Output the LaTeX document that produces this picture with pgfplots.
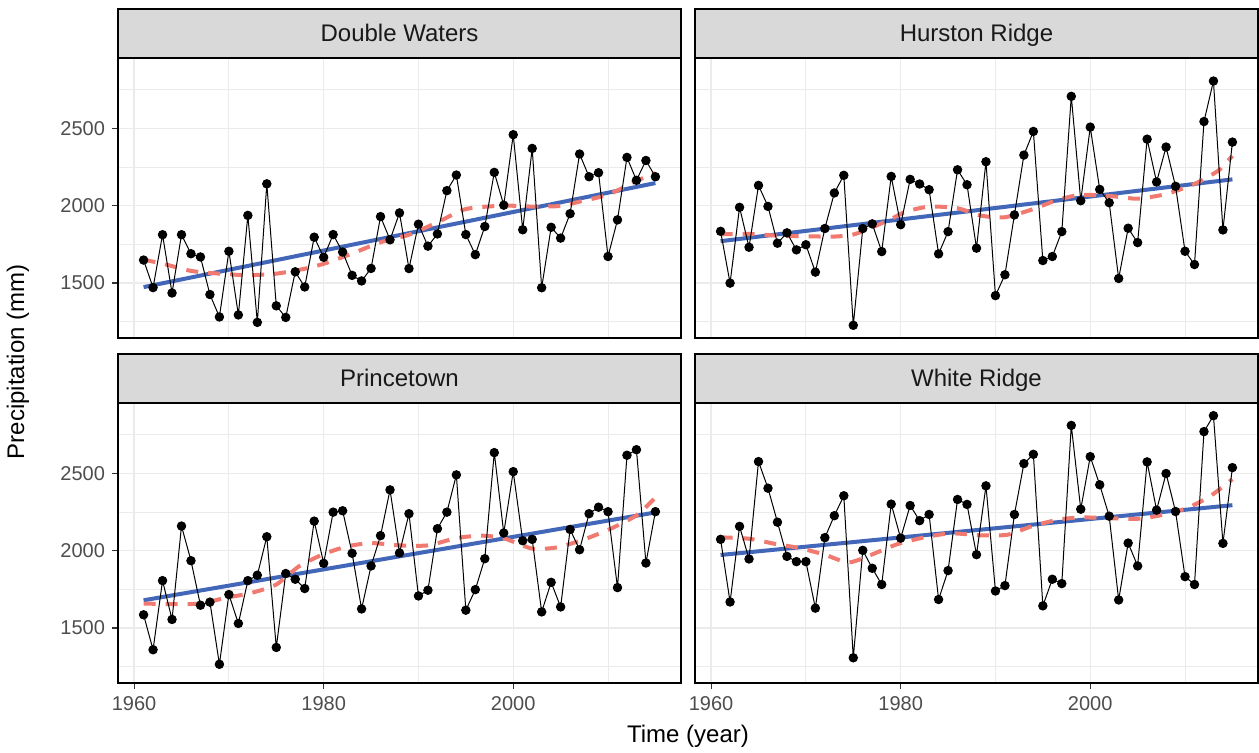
\documentclass[border=0pt]{standalone}
\usepackage{fontspec}
\setmainfont{Liberation Sans}
\usepackage{pgfplots}
\pgfplotsset{compat=1.18}
\usepackage{pgfplotstable}

\definecolor{gridc}{HTML}{EBEBEB}
\definecolor{stripc}{HTML}{D9D9D9}
\definecolor{lmblue}{HTML}{4267B8}
\definecolor{loessred}{HTML}{F07A70}
\definecolor{ticktext}{HTML}{4D4D4D}

% year, precipitation (mm)
\pgfplotstableread{
year p
1961 1648
1962 1470
1963 1812
1964 1435
1965 1812
1966 1689
1967 1668
1968 1425
1969 1280
1970 1705
1971 1293
1972 1937
1973 1245
1974 2141
1975 1352
1976 1277
1977 1572
1978 1474
1979 1796
1980 1666
1981 1813
1982 1700
1983 1549
1984 1513
1985 1594
1986 1929
1987 1779
1988 1953
1989 1593
1990 1880
1991 1738
1992 1817
1993 2097
1994 2198
1995 1813
1996 1683
1997 1865
1998 2215
1999 2003
2000 2459
2001 1844
2002 2370
2003 1469
2004 1860
2005 1790
2006 1948
2007 2334
2008 2187
2009 2213
2010 1671
2011 1908
2012 2312
2013 2164
2014 2292
2015 2187
}\dw

\pgfplotstableread{
year p
1961 1834
1962 1499
1963 1989
1964 1731
1965 2131
1966 1995
1967 1757
1968 1824
1969 1714
1970 1747
1971 1570
1972 1852
1973 2082
1974 2196
1975 1226
1976 1852
1977 1882
1978 1703
1979 2189
1980 1877
1981 2170
1982 2140
1983 2103
1984 1688
1985 1832
1986 2232
1987 2135
1988 1725
1989 2284
1990 1418
1991 1553
1992 1940
1993 2327
1994 2480
1995 1645
1996 1671
1997 1832
1998 2707
1999 2032
2000 2508
2001 2105
2002 2019
2003 1529
2004 1854
2005 1761
2006 2430
2007 2153
2008 2379
2009 2125
2010 1705
2011 1619
2012 2544
2013 2806
2014 1843
2015 2411
}\hr

\pgfplotstableread{
year p
1961 1585
1962 1359
1963 1806
1964 1555
1965 2159
1966 1935
1967 1647
1968 1667
1969 1265
1970 1716
1971 1529
1972 1806
1973 1841
1974 2090
1975 1374
1976 1852
1977 1815
1978 1755
1979 2191
1980 1918
1981 2249
1982 2258
1983 1983
1984 1623
1985 1901
1986 2097
1987 2393
1988 1985
1989 2239
1990 1707
1991 1744
1992 2142
1993 2249
1994 2490
1995 1615
1996 1748
1997 1948
1998 2634
1999 2114
2000 2511
2001 2064
2002 2073
2003 1604
2004 1795
2005 1636
2006 2137
2007 2006
2008 2239
2009 2281
2010 2252
2011 1761
2012 2617
2013 2653
2014 1920
2015 2252
}\pt

\pgfplotstableread{
year p
1961 2073
1962 1668
1963 2157
1964 1946
1965 2576
1966 2404
1967 2184
1968 1963
1969 1929
1970 1929
1971 1628
1972 2084
1973 2226
1974 2355
1975 1307
1976 2002
1977 1886
1978 1781
1979 2301
1980 2081
1981 2292
1982 2194
1983 2234
1984 1684
1985 1871
1986 2331
1987 2299
1988 1974
1989 2419
1990 1739
1991 1774
1992 2234
1993 2563
1994 2623
1995 1643
1996 1815
1997 1787
1998 2810
1999 2268
2000 2608
2001 2426
2002 2223
2003 1681
2004 2049
2005 1901
2006 2574
2007 2262
2008 2499
2009 2253
2010 1832
2011 1781
2012 2770
2013 2873
2014 2047
2015 2537
}\wr

\pgfplotsset{
  panel/.style={
    scale only axis, width=281.5pt, height=140pt,
    anchor=south west,
    xmin=1958.3, xmax=2017.7, ymin=1144, ymax=2955,
    xtick={1960,1980,2000}, minor xtick={1970,1990,2010},
    ytick={1500,2000,2500}, minor ytick={1250,1750,2250,2750},
    grid=both,
    major grid style={draw=gridc, line width=0.7pt},
    minor grid style={draw=gridc, line width=0.45pt},
    axis line style={draw=black, line width=0.9pt},
    tick align=outside, major tick length=3pt, minor tick length=0pt,
    xtick pos=bottom, ytick pos=left,
    tick style={draw=black!80, line width=0.6pt},
    ticklabel style={font=\fontsize{10}{12}\selectfont, text=ticktext},
    /pgf/number format/assume math mode=true,
    /pgf/number format/set thousands separator={},
  },
  noxlab/.style={xticklabels={}, major x tick style={draw=none}},
  noylab/.style={yticklabels={}, major y tick style={draw=none}},
  obs/.style={black, line width=0.5pt, mark=*, mark size=2.1pt, mark options={fill=black, draw=black}},
  lmline/.style={lmblue, line width=2pt},
  loess/.style={loessred, line width=2pt, dash pattern=on 6pt off 5pt, smooth, tension=0.4},
}

\tikzset{strip/.style={fill=stripc, draw=black, line width=0.9pt},
  striptext/.style={font=\fontsize{12}{14}\selectfont, text=black!90, anchor=base, inner sep=0pt}}

\begin{document}
\begin{tikzpicture}
\useasboundingbox (0,0) rectangle (629.5pt,376.5pt);

\begin{axis}[panel, noxlab, at={(59pt,207.5pt)}, name=tl]
\addplot[lmline] coordinates {(1961,1473) (2015,2146)};
\addplot[loess] coordinates {(1961,1650) (1963,1625) (1966,1578) (1969,1560) (1972,1550) (1975,1560) (1978,1592) (1980,1624) (1983,1690) (1986,1763) (1989,1812) (1992,1892) (1995,1978) (1999,2000) (2002,1994) (2005,1998) (2007,2026) (2010,2071) (2013,2160) (2015,2210)};
\addplot[obs] table[x=year, y=p] {\dw};
\end{axis}

\begin{axis}[panel, noxlab, noylab, at={(347.5pt,207.5pt)}, name=tr]
\addplot[lmline] coordinates {(1961,1770) (2015,2170)};
\addplot[loess] coordinates {(1961,1815) (1964,1817) (1967,1806) (1970,1802) (1973,1800) (1975,1813) (1977,1860) (1979,1914) (1980.5,1960) (1983,1994) (1986,1983) (1988.5,1935) (1991,1925) (1994,1978) (1996.5,2036) (1999,2070) (2002.5,2060) (2005,2045) (2008,2075) (2011,2140) (2013.5,2226) (2015,2322)};
\addplot[obs] table[x=year, y=p] {\hr};
\end{axis}

\begin{axis}[panel, at={(59pt,35pt)}, name=bl]
\addplot[lmline] coordinates {(1961,1679) (2015,2247)};
\addplot[loess] coordinates {(1961,1658) (1964,1654) (1967,1658) (1969.6,1694) (1972.4,1727) (1975,1781) (1977.4,1899) (1980,1978) (1982.5,2028) (1985,2049) (1988,2034) (1991,2034) (1994,2081) (1996.6,2097) (1999,2080) (2002,2013) (2004.6,2021) (2007.4,2071) (2010.3,2142) (2013.1,2232) (2015,2344)};
\addplot[obs] table[x=year, y=p] {\pt};
\end{axis}

\begin{axis}[panel, noylab, at={(347.5pt,35pt)}, name=br]
\addplot[lmline] coordinates {(1961,1972) (2015,2294)};
\addplot[loess] coordinates {(1961,2086) (1964,2077) (1966.8,2043) (1969.3,2017) (1972,1974) (1974.6,1924) (1977.8,1996) (1979.7,2043) (1982.5,2086) (1985.3,2112) (1988.5,2099) (1991.3,2103) (1993.8,2157) (1996.6,2200) (1999,2215) (2002,2210) (2005,2206) (2007.7,2232) (2010.2,2275) (2012.6,2350) (2015,2462)};
\addplot[obs] table[x=year, y=p] {\wr};
\end{axis}

% facet strips
\draw[strip] (tl.north west) rectangle ([yshift=24.5pt]tl.north east);
\node[striptext] at ([yshift=8pt]tl.north) {Double Waters};
\draw[strip] (tr.north west) rectangle ([yshift=24.5pt]tr.north east);
\node[striptext] at ([yshift=8pt]tr.north) {Hurston Ridge};
\draw[strip] (bl.north west) rectangle ([yshift=24.5pt]bl.north east);
\node[striptext] at ([yshift=8pt]bl.north) {Princetown};
\draw[strip] (br.north west) rectangle ([yshift=24.5pt]br.north east);
\node[striptext] at ([yshift=8pt]br.north) {White Ridge};

\node[rotate=90, font=\fontsize{12}{14}\selectfont] at (9pt,195.5pt) {Precipitation (mm)};
\node[font=\fontsize{12}{14}\selectfont] at (344pt,8.5pt) {Time (year)};
\end{tikzpicture}
\end{document}
